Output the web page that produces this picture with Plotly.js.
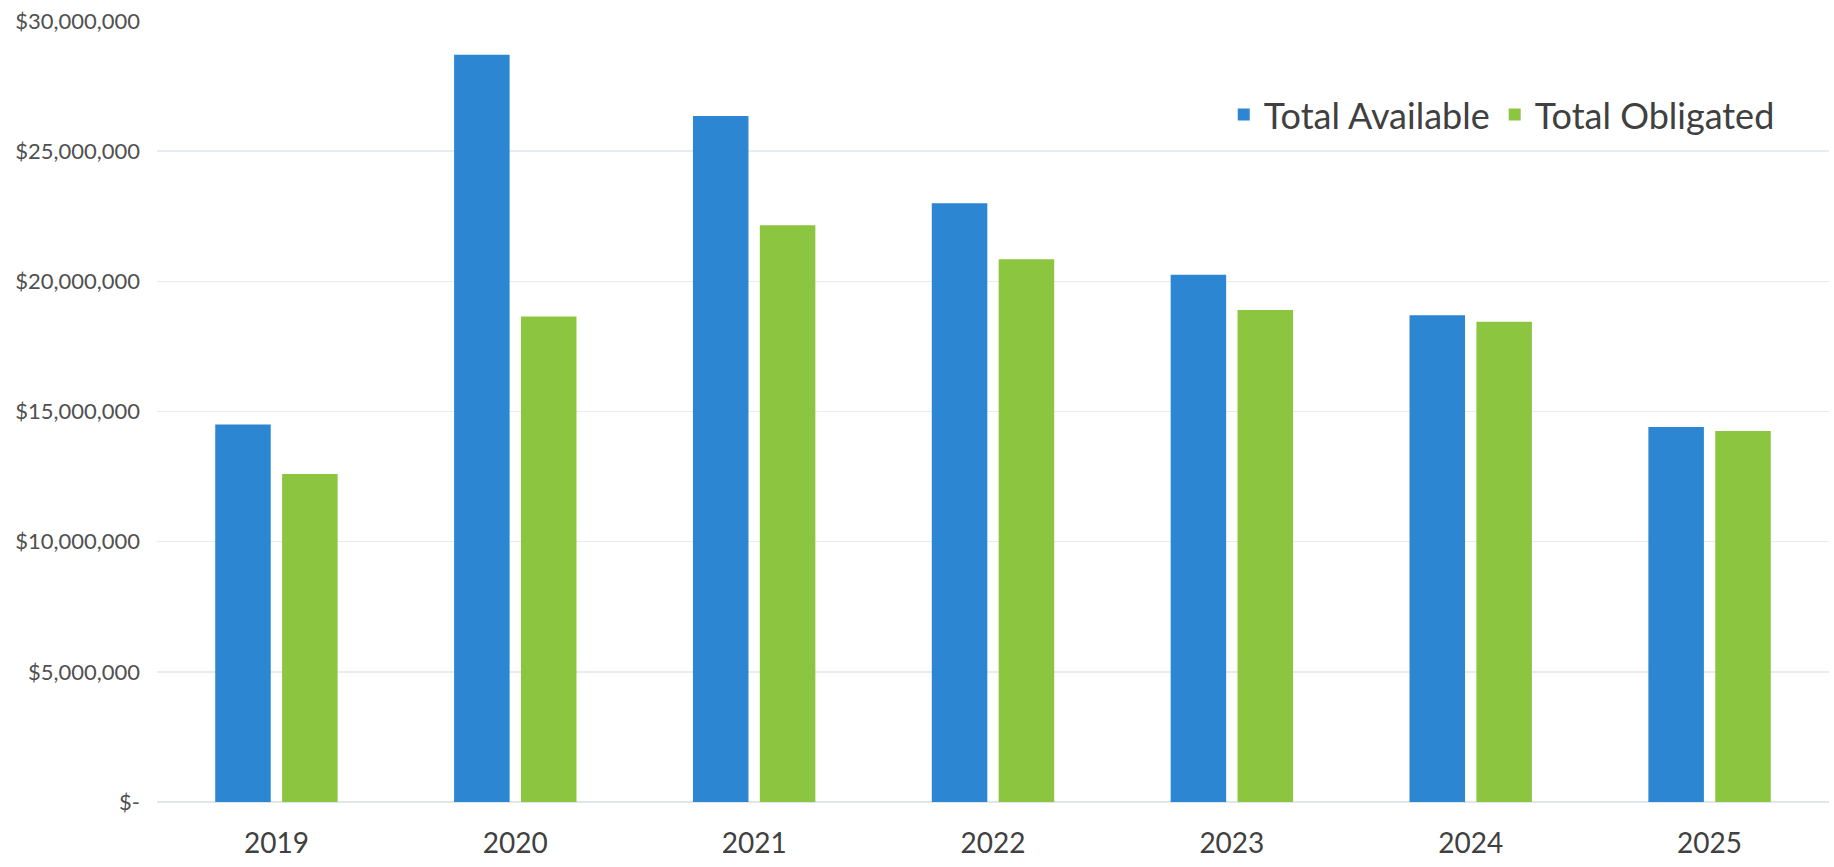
<!DOCTYPE html>
<html>
<head>
<meta charset="utf-8">
<script src="https://cdn.plot.ly/plotly-3.0.1.min.js"></script>
<style>html,body{margin:0;padding:0;background:#fff;}#chart{width:1834px;height:867px;}</style>
</head>
<body>
<div id="chart"></div>
<script>
var years = ['2019','2020','2021','2022','2023','2024','2025'];
var totalAvailable = [14500000, 28700000, 26350000, 23000000, 20250000, 18700000, 14400000];
var totalObligated = [12600000, 18650000, 22150000, 20850000, 18900000, 18450000, 14250000];
var yTickVals = [0, 5000000, 10000000, 15000000, 20000000, 25000000, 30000000];
var yTickText = ['$-', '$5,000,000', '$10,000,000', '$15,000,000', '$20,000,000', '$25,000,000', '$30,000,000'];

var traces = [
  {type:'bar', name:'Total Available', x:years, y:totalAvailable, marker:{color:'#2D86D2'}, hoverinfo:'none'},
  {type:'bar', name:'Total Obligated', x:years, y:totalObligated, marker:{color:'#8CC540'}, hoverinfo:'none'}
];
var layout = {
  width:1834, height:867,
  margin:{l:157, r:5, t:21, b:65},
  paper_bgcolor:'#ffffff', plot_bgcolor:'#ffffff',
  font:{family:'Lato, "Open Sans", sans-serif', color:'#404040'},
  barmode:'group', bargap:0.44, bargroupgap:0.17,
  showlegend:true,
  legend:{orientation:'h', x:0.638, xanchor:'left', y:0.88, yanchor:'middle',
          font:{size:36, color:'#404040'}, bgcolor:'rgba(0,0,0,0)', traceorder:'normal',
          itemwidth:30},
  xaxis:{type:'category', showgrid:false, zeroline:false, showline:false, ticks:'',
         tickfont:{size:28, color:'#404040'}, ticklabelstandoff:22},
  yaxis:{range:[0,30000000], tickvals:yTickVals, ticktext:yTickText,
         showgrid:true, gridcolor:'#e6ecf0', gridwidth:1.5, zeroline:true, zerolinecolor:'#e0e6ea', zerolinewidth:1.5,
         showline:false, ticks:'', tickfont:{size:22, color:'#505050'}, ticklabelstandoff:16}
};
Plotly.newPlot('chart', traces, layout, {displayModeBar:false, staticPlot:true});
</script>
</body>
</html>
